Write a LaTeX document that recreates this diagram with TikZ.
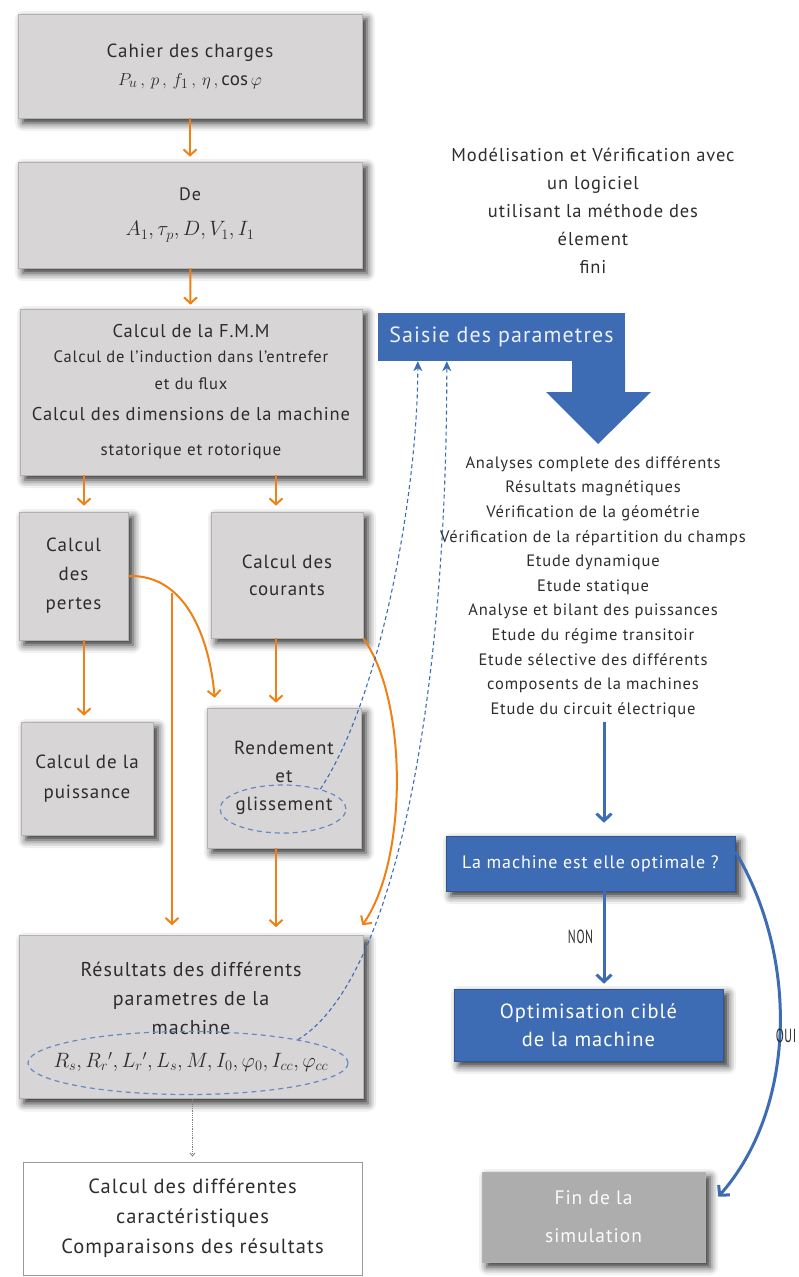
\documentclass[tikz,border=0pt]{standalone}
\usepackage{fontspec}
\setmainfont{PT Sans}[LetterSpace=5]
\usetikzlibrary{arrows.meta,shapes.geometric,shadows.blur,calc}
\definecolor{orng}{RGB}{240,128,20}
\definecolor{blu}{RGB}{62,108,180}
\definecolor{boxgray}{RGB}{215,213,214}
\definecolor{fingray}{RGB}{173,173,173}
\definecolor{txt}{RGB}{45,45,45}
\newcommand{\fs}[2]{\fontsize{#1}{#2}\selectfont}
\begin{document}
\begin{tikzpicture}[x=1pt,y=-1pt,
  shade box/.style={blur shadow={shadow xshift=5pt, shadow yshift=-5pt, shadow blur radius=8pt, shadow opacity=85}},
  gbox/.style={rectangle, fill=boxgray, draw=black!30, line width=0.6pt, align=center, text=txt, inner sep=0pt, shade box},
  bbox/.style={rectangle, fill=blu, draw=blu!80!black, line width=0.6pt, align=center, text=white, inner sep=0pt, shade box},
  wbox/.style={rectangle, fill=white, draw=black!40, line width=0.8pt, align=center, text=txt, inner sep=0pt},
  plain/.style={align=center, text=txt, inner sep=0pt},
  oarr/.style={draw=orng, line width=2pt, -{Straight Barb[length=6pt,width=13pt]}},
  barr/.style={draw=blu, line width=3pt, -{Straight Barb[length=7pt,width=15pt]}},
  darr/.style={draw=blu, dashed, dash pattern=on 4pt off 3pt, line width=1.1pt, -{Stealth[length=10pt,width=9pt,inset=3pt]}},
  ring/.style={ellipse, draw=blu!80, dashed, dash pattern=on 5pt off 4pt, line width=1.2pt, inner sep=0pt},
  tag/.style={text=txt, font=\fs{19}{19}, xscale=0.62, inner sep=0pt}]
\useasboundingbox (0,0) rectangle (798,1277);

% ---------- left column ----------
\node[gbox, minimum width=344pt, minimum height=104pt, font=\fs{19}{22}] (b1) at (190,66)
  {Cahier des charges\\[6pt]{\fs{19}{22}$P_u\,,\,p\,,\,f_1\,,\,\eta\,,\cos\varphi$}};
\node[gbox, minimum width=344pt, minimum height=106pt, font=\fs{18}{22}] (b2) at (190,215)
  {De\\[13pt]{\fs{21.5}{24}$A_1,\tau_p,D,V_1,I_1$}};
\node[gbox, minimum width=342pt, minimum height=166pt, font=\fs{18}{26}] (b3) at (191,392)
  {{\fs{18.5}{26}Calcul de la F.M.M}\\[-1pt]
   {\fs{16.5}{26}Calcul de l'induction dans l'entrefer}\\[1pt]
   {\fs{16.5}{26}et du flux}\\[5pt]
   {\fs{18.5}{26}Calcul des dimensions de la machine}\\[9pt]
   {\fs{17}{26}statorique et rotorique}};
\node[gbox, minimum width=109pt, minimum height=128pt, font=\fs{19}{29}] (b4) at (73.5,576)
  {Calcul\\des\\pertes};
\node[gbox, minimum width=152pt, minimum height=126pt, font=\fs{19}{27}] (b5) at (287,575)
  {Calcul des\\courants};
\node[gbox, minimum width=132pt, minimum height=113pt, font=\fs{19}{30}] (b6) at (87,778.5)
  {Calcul de la\\puissance};
\node[gbox, minimum width=154pt, minimum height=140pt, font=\fs{19}{28}] (b7) at (284,778)
  {Rendement\\et\\glissement};
\node[ring, minimum width=126pt, minimum height=48pt] (gl) at (283,809) {};
\node[gbox, minimum width=344pt, minimum height=163pt, font=\fs{20}{29}] (b8) at (191,1017)
  {Résultats des différents\\parametres de la\\machine\\[4pt]
   {\fs{22}{24}$R_s,R_r{}',L_r{}',L_s,M,I_0,\varphi_0,I_{cc},\varphi_{cc}$}};
\node[ring, minimum width=320pt, minimum height=63pt] (pe) at (188,1063) {};
\node[wbox, minimum width=339pt, minimum height=113pt, font=\fs{20.5}{30}] (b9) at (192.5,1218.5)
  {Calcul des différentes\\caractéristiques\\Comparaisons des résultats};

% ---------- right column ----------
\node[plain, font=\fs{18.5}{28}] (model) at (593,211)
  {Modélisation et Vérification avec\\un logiciel\\utilisant la méthode des\\élement\\fini};
\node[rectangle, fill=blu, inner sep=0pt, minimum width=247pt, minimum height=48pt,
      text=white!90!blu, font=\fs{22}{24}] (saisie) at (501.5,337) {Saisie des parametres};
\fill[blu] (572,360) -- (625,360) -- (625,392) -- (651,392) -- (598,444) -- (546,392) -- (572,392) -- cycle;
\node[plain, font=\fs{16.5}{24.6}] (list) at (593,587)
  {Analyses complete des différents\\Résultats magnétiques\\Vérification de la géométrie\\
   Vérification de la répartition du champs\\Etude dynamique\\Etude statique\\
   Analyse et bilant des puissances\\Etude du régime transitoir\\
   Etude sélective des différents\\composents de la machines\\Etude du circuit électrique};
\node[bbox, minimum width=289pt, minimum height=55pt, font=\fs{18}{20}] (opt) at (590.5,863.5)
  {La machine est elle optimale ?};
\node[bbox, minimum width=269pt, minimum height=72pt, font=\fs{20.5}{28}] (cib) at (588.5,1025)
  {Optimisation ciblé\\de la machine};
\node[gbox, fill=fingray, text=white!95!fingray, minimum width=223pt, minimum height=90pt, font=\fs{19.5}{38}] (fin) at (593.5,1217)
  {Fin de la\\simulation};

% ---------- helper columns ----------
\coordinate (cA) at (84,0);
\coordinate (cB) at (276,0);
\coordinate (cC) at (172,0);
\coordinate (cD) at (604,0);
\coordinate (split) at (172,593);

% ---------- orange connectors ----------
\draw[oarr, shorten >=5pt] (b1) -- (b2);
\draw[oarr, shorten >=4pt] (b2) -- (b3);
\draw[oarr, shorten >=6pt] (b3.south -| cA) -- (b4.north -| cA);
\draw[oarr, shorten >=6pt] (b3.south -| cB) -- (b5.north -| cB);
\draw[oarr, shorten >=6pt] (b4.south -| cA) -- (b6.north -| cA);
\draw[oarr, shorten >=5pt] (b5.south -| cB) -- (b7.north -| cB);
\draw[oarr, shorten >=8pt] (b7.south -| cB) -- (b8.north -| cB);
\draw[oarr] (b4.east) to[out=2,in=95] ([xshift=8pt,yshift=10pt]b7.north west);
\draw[oarr, shorten >=10pt] (split) -- (b8.north -| cC);
\draw[oarr] (b5.south east) .. controls (408,700) and (408,860) .. ([xshift=-1pt,yshift=10pt]b8.north east);

% ---------- dashed feedback to the input block ----------
\draw[darr] (gl.28) .. controls (385,690) and (418,480) .. ([xshift=40pt]saisie.south west);
\draw[darr] (pe.12) .. controls (395,980) and (447,700) .. ([xshift=69pt]saisie.south west);
\draw[densely dotted, draw=black!50, line width=0.8pt, -{Straight Barb[length=3pt,width=5pt]}, shorten >=5pt]
  (b8.south -| b9.north) -- (b9.north);

% ---------- blue flow ----------
\draw[barr, shorten >=13pt] (list.south -| cD) ++(0,4) -- (opt.north -| cD);
\draw[barr, shorten >=5pt] (opt.south -| cD) -- (cib.north -| cD)
  node[pos=0.47, left=10pt, tag] (non) {NON};
\draw[barr] ([yshift=12pt]opt.east) .. controls (800,960) and (795,1110) .. ([xshift=13pt,yshift=-25pt]fin.north east);
\node[tag] (oui) at (786,1036) {OUI};
\end{tikzpicture}
\end{document}
